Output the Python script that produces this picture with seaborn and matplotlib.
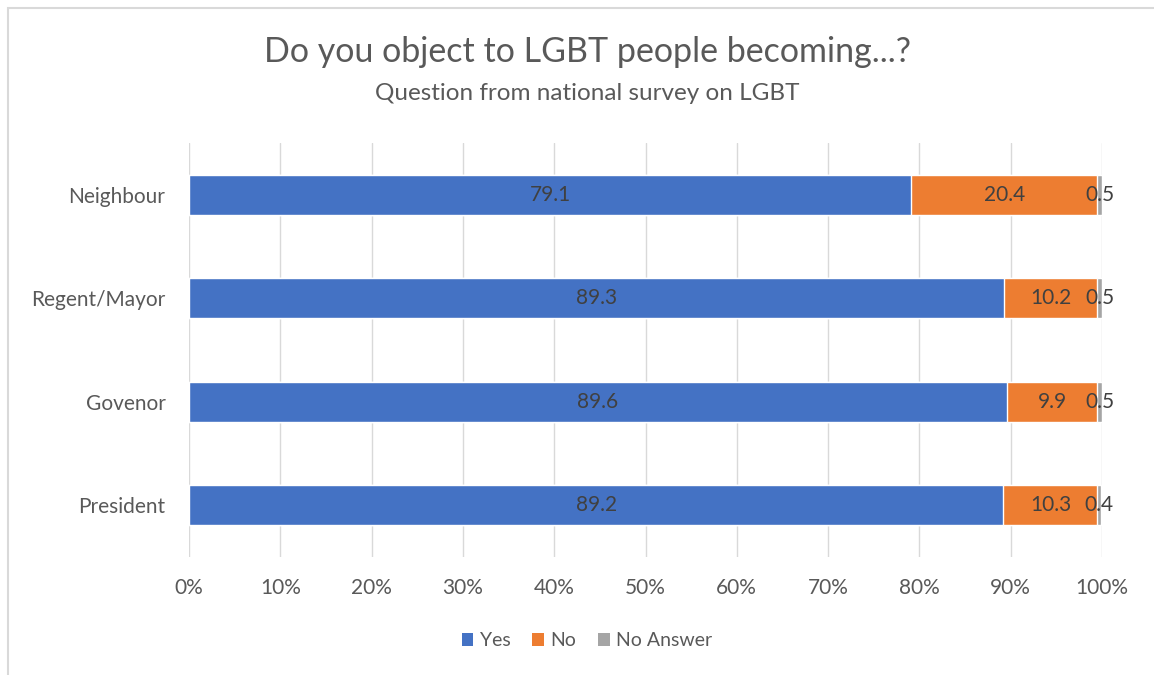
import matplotlib
matplotlib.use("Agg")
import matplotlib.pyplot as plt
import seaborn as sns
import pandas as pd
from matplotlib.patches import Patch, Rectangle

categories = ["Neighbour", "Regent/Mayor", "Govenor", "President"]
yes = [79.1, 89.3, 89.6, 89.2]
no = [20.4, 10.2, 9.9, 10.3]
no_answer = [0.5, 0.5, 0.5, 0.4]
series_names = ["Yes", "No", "No Answer"]
colors = ["#4472C4", "#ED7D31", "#A5A5A5"]
xticks = [0, 10, 20, 30, 40, 50, 60, 70, 80, 90, 100]

sns.set_theme(style="white")
plt.rcParams["font.family"] = ["Lato", "DejaVu Sans"]

fig = plt.figure(figsize=(11.54, 6.75), dpi=100)
ax = fig.add_axes([189/1154, 1-557/675, (1102-189)/1154, (557-143)/675])

cum_yes = yes
cum_no = [a + b for a, b in zip(yes, no)]
cum_all = [a + b + c for a, b, c in zip(yes, no, no_answer)]
df = pd.DataFrame({"cat": categories, "yes": cum_yes, "no": cum_no, "all": cum_all})

for col, c in zip(["all", "no", "yes"], [colors[2], colors[1], colors[0]]):
    sns.barplot(data=df, x=col, y="cat", color=c, width=0.39, ax=ax,
                orient="h", saturation=1, zorder=3)

txt_color = "#404040"
fs = 15
for i, cat in enumerate(categories):
    ax.text(yes[i] / 2, i, f"{yes[i]:.1f}", ha="center", va="center", fontsize=fs, color=txt_color, zorder=5)
    ax.text(yes[i] + no[i] / 2, i, f"{no[i]:.1f}", ha="center", va="center", fontsize=fs, color=txt_color, zorder=5)
    ax.text(yes[i] + no[i] + no_answer[i] / 2, i, f"{no_answer[i]:.1f}", ha="center", va="center", fontsize=fs, color=txt_color, zorder=5)

ax.set_xlim(0, 100)
ax.set_ylim(3.5, -0.5)
ax.set_xticks(xticks)
ax.set_xticklabels([f"{t}%" for t in xticks])
ax.set_xlabel("")
ax.set_ylabel("")
for s in ax.spines.values():
    s.set_visible(False)
ax.xaxis.grid(True, color="#D9D9D9", linewidth=1, zorder=0)
ax.set_axisbelow(True)
ax.tick_params(axis="x", length=0, pad=15, labelsize=fs, labelcolor="#595959")
ax.tick_params(axis="y", length=0, pad=17, labelsize=fs, labelcolor="#595959")

fig.text(587/1154, 1-52/675, "Do you object to LGBT people becoming...?", ha="center", va="center",
         fontsize=24.5, color="#595959")
fig.text(587/1154, 1-94/675, "Question from national survey on LGBT", ha="center", va="center",
         fontsize=17.5, color="#595959")

handles = [Patch(facecolor=c, edgecolor="none") for c in colors]
leg = fig.legend(handles, series_names, loc="center", bbox_to_anchor=(587/1154, 1-641/675), ncol=3,
                 frameon=False, fontsize=14, handlelength=0.6, handleheight=0.6,
                 handletextpad=0.35, columnspacing=1.1)
for t in leg.get_texts():
    t.set_color("#595959")

fig.patches.append(Rectangle((8/1154, -0.05), 1.2, 1 - 8/675 + 0.05, transform=fig.transFigure,
                             fill=False, edgecolor="#D9D9D9", linewidth=1.5))

fig.savefig("out.png", dpi=100, facecolor="white")
